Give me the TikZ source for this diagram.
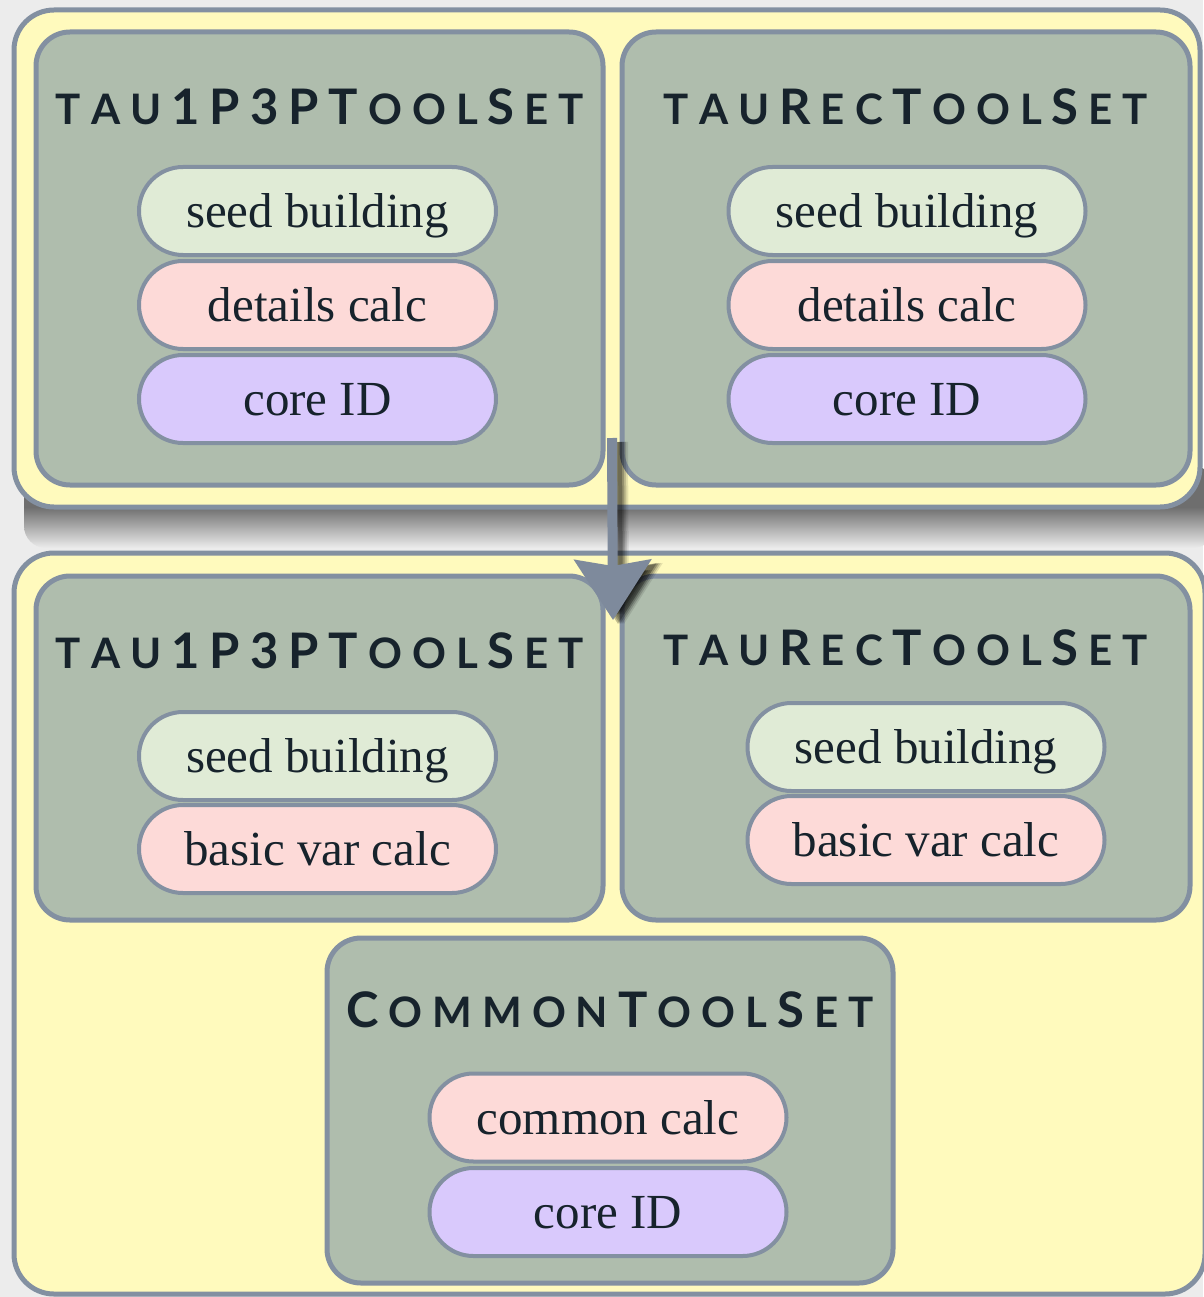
\documentclass[tikz,border=0pt]{standalone}
\usepackage{fontspec}
\setmainfont{Liberation Serif}
\newfontfamily\titlefont{Lato}
\usetikzlibrary{arrows.meta}

\definecolor{bgc}{HTML}{ECECEC}
\definecolor{shadowc}{HTML}{6E6E6E}
\definecolor{framec}{HTML}{8390A1}
\definecolor{outerc}{HTML}{FFFABD}
\definecolor{groupc}{HTML}{AFBDAD}
\definecolor{seedc}{HTML}{E0EBD6}
\definecolor{calcc}{HTML}{FDDAD8}
\definecolor{corec}{HTML}{D9C9FC}
\definecolor{inkc}{HTML}{17232C}
\definecolor{arrowc}{HTML}{7E8A9C}

% small-caps look for the tool set titles, with even tracking
\newlength\trackkern
\setlength\trackkern{10pt}
\makeatletter
\newcommand\trackrun[1]{\@tfor\tracktok:=#1\do{\tracktok\kern\trackkern}}
\makeatother
\newcommand\capbig[1]{{\fontsize{49}{50}\selectfont\trackrun{#1}}}
\newcommand\capsmall[1]{{\fontsize{42}{44}\selectfont\trackrun{#1}}}
\newcommand\settitletext[1]{#1\kern-\trackkern}

\tikzset{
  outerbox/.style={draw=framec, line width=5pt, fill=outerc, rounded corners=40pt},
  groupbox/.style={draw=framec, line width=5pt, fill=groupc, rounded corners=34pt},
  pill/.style={draw=framec, line width=4pt, rounded corners=44pt,
    minimum width=357pt, minimum height=88pt, inner sep=0pt,
    text height=33pt, text depth=0pt, text=inkc,
    font=\fontsize{49}{50}\selectfont},
  seedpill/.style={pill, fill=seedc},
  calcpill/.style={pill, fill=calcc},
  corepill/.style={pill, fill=corec},
  settitle/.style={anchor=base, inner sep=0pt, text=inkc, font=\titlefont\bfseries},
}

\begin{document}
\begin{tikzpicture}[x=1pt,y=-1pt]
\useasboundingbox (0,0) rectangle (1203,1297);
\fill[bgc] (0,0) rectangle (1203,1297);

% drop shadow under the upper panel
\shade[top color=shadowc, bottom color=bgc, middle color=shadowc, rounded corners=22pt]
  (24,466) rectangle (1215,548);

% outer panels
\node[outerbox, minimum width=1186pt, minimum height=497pt] (upper) at (607,258.5) {};
\node[outerbox, minimum width=1191pt, minimum height=741pt] (lower) at (609.5,923.5) {};

% tool set groups
\node[groupbox, minimum width=567pt, minimum height=453pt] (ul) at (319.5,258.5) {};
\node[groupbox, minimum width=568pt, minimum height=453pt] (ur) at (906,258.5) {};
\node[groupbox, minimum width=567pt, minimum height=344pt] (ll) at (319.5,748) {};
\node[groupbox, minimum width=568pt, minimum height=344pt] (lr) at (906,748) {};
\node[groupbox, minimum width=566pt, minimum height=345pt] (cm) at (610,1110.5) {};

% titles
\node[settitle] (ultitle) at (320,125) {\settitletext{\capsmall{TAU}\capbig{1P3PT}\capsmall{OOL}\capbig{S}\capsmall{ET}}};
\node[settitle] (urtitle) at (906,125) {\settitletext{\capsmall{TAU}\capbig{R}\capsmall{EC}\capbig{T}\capsmall{OOL}\capbig{S}\capsmall{ET}}};
\node[settitle] (lltitle) at (320,668) {\settitletext{\capsmall{TAU}\capbig{1P3PT}\capsmall{OOL}\capbig{S}\capsmall{ET}}};
\node[settitle] (lrtitle) at (906,665) {\settitletext{\capsmall{TAU}\capbig{R}\capsmall{EC}\capbig{T}\capsmall{OOL}\capbig{S}\capsmall{ET}}};
\node[settitle] (cmtitle) at (610,1027) {\settitletext{\capbig{C}\capsmall{OMMON}\capbig{T}\capsmall{OOL}\capbig{S}\capsmall{ET}}};

% upper left tools
\node[seedpill] (ul1) at (317.5,211) {seed building};
\node[calcpill] (ul2) at (317.5,305) {details calc};
\node[corepill] (ul3) at (317.5,399) {core ID};
% upper right tools
\node[seedpill] (ur1) at (907,211) {seed building};
\node[calcpill] (ur2) at (907,305) {details calc};
\node[corepill] (ur3) at (907,399) {core ID};
% lower left tools
\node[seedpill] (ll1) at (317.5,756) {seed building};
\node[calcpill] (ll2) at (317.5,849) {basic var calc};
% lower right tools
\node[seedpill] (lr1) at (926,747) {seed building};
\node[calcpill] (lr2) at (926,840) {basic var calc};
% common tools
\node[calcpill] (cm1) at (608,1117.5) {common calc};
\node[corepill] (cm2) at (608,1212) {core ID};

% migration arrow
\coordinate (arrowtop) at (612,438);
\coordinate (arrowtip) at (613,620);
\foreach \op/\dx in {0.10/11, 0.16/9, 0.22/7, 0.25/5}
  \draw[draw=black, opacity=\op, line width=10pt,
        -{Stealth[length=60pt,width=76pt,inset=6pt]}]
    ([xshift=\dx pt, yshift=-4pt]arrowtop) -- ([xshift=\dx pt, yshift=-4pt]arrowtip);
\draw[draw=arrowc, line width=10pt,
      -{Stealth[length=60pt,width=76pt,inset=6pt,fill=arrowc]}]
  (arrowtop) -- (arrowtip);
\end{tikzpicture}
\end{document}
